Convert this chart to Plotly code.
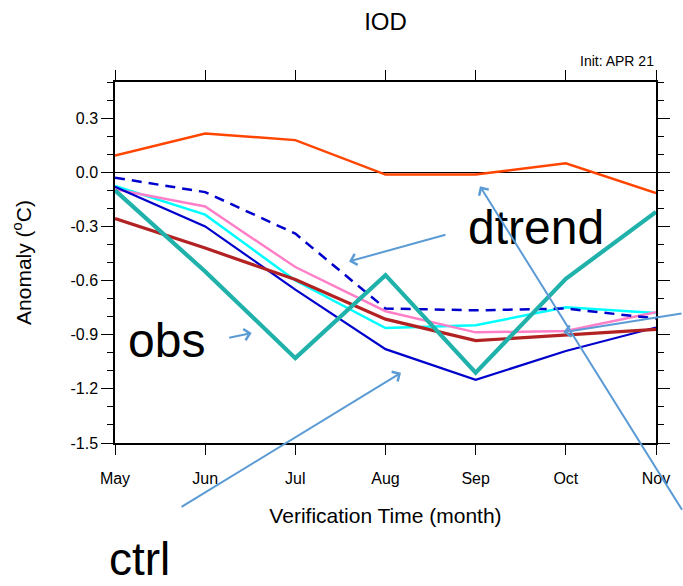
import plotly.graph_objects as go

# Verification months (forecast initialised in April 2021)
months = ["May", "Jun", "Jul", "Aug", "Sep", "Oct", "Nov"]

# IOD anomaly (degC) for each series
obs = [-0.10, -0.55, -1.03, -0.57, -1.11, -0.59, -0.22]
ctrl = [-0.08, -0.30, -0.65, -0.98, -1.15, -0.99, -0.86]
dtrend = [-0.03, -0.11, -0.34, -0.755, -0.765, -0.755, -0.81]
exp_orange = [0.093, 0.215, 0.178, -0.013, -0.013, 0.05, -0.115]
exp_cyan = [-0.076, -0.235, -0.60, -0.863, -0.848, -0.748, -0.78]
exp_pink = [-0.094, -0.19, -0.525, -0.77, -0.887, -0.88, -0.776]
exp_brown = [-0.256, -0.42, -0.594, -0.814, -0.933, -0.90, -0.87]

ytick_vals = [0.3, 0.0, -0.3, -0.6, -0.9, -1.2, -1.5]
ytick_text = ["0.3", "0.0", "-0.3", "-0.6", "-0.9", "-1.2", "-1.5"]

x = list(range(len(months)))
FONT = "Liberation Sans, Arial, Helvetica, sans-serif"
ARROW = "#5b9bd5"

fig = go.Figure()

series = [
    (exp_orange, "#ff4500", 2.5, "solid"),
    (exp_cyan, "#00ffff", 2.5, "solid"),
    (exp_pink, "#ff80c8", 2.5, "solid"),
    (dtrend, "#0000cc", 2.5, "10px,7px"),
    (ctrl, "#0000cc", 2.2, "solid"),
    (exp_brown, "#b22222", 3.2, "solid"),
    (obs, "#20b2aa", 4.2, "solid"),
]
for vals, color, width, dash in series:
    fig.add_trace(go.Scatter(
        x=x, y=vals, mode="lines",
        line=dict(color=color, width=width, dash=dash),
        showlegend=False, hoverinfo="skip",
    ))

fig.update_layout(
    width=683, height=586,
    margin=dict(l=115, r=27, t=82, b=143),
    paper_bgcolor="white", plot_bgcolor="white",
    font=dict(family=FONT, color="black"),
    title=dict(text="IOD", x=0.5, xref="paper", xanchor="center",
               y=1 - 22 / 586, yanchor="middle",
               font=dict(size=24, family=FONT)),
)

fig.update_xaxes(
    range=[0, 6], tickmode="array", tickvals=x, ticktext=months,
    ticks="outside", ticklen=10, tickwidth=1.3, tickcolor="black",
    ticklabelstandoff=10,
    showline=True, linecolor="black", linewidth=1.5, mirror="allticks",
    showgrid=False, zeroline=False,
    tickfont=dict(size=16, family=FONT),
    title=dict(text="Verification Time (month)", font=dict(size=21, family=FONT),
               standoff=22),
)

fig.update_yaxes(
    range=[-1.5, 0.5], tickmode="array", tickvals=ytick_vals, ticktext=ytick_text,
    ticks="outside", ticklen=12, tickwidth=1.3, tickcolor="black",
    minor=dict(tickmode="array",
               tickvals=[round(-1.5 + 0.1 * i, 1) for i in range(21)],
               ticks="outside", ticklen=6, tickwidth=1.2, tickcolor="black"),
    showline=True, linecolor="black", linewidth=1.5, mirror="allticks",
    showgrid=False, zeroline=True, zerolinecolor="black", zerolinewidth=1.2,
    tickfont=dict(size=16, family=FONT),
    title=dict(text="Anomaly (<sup>o</sup>C)", font=dict(size=21, family=FONT),
               standoff=33),
)

# Init label above the top-right corner
fig.add_annotation(text="Init: APR 21", xref="paper", yref="paper",
                   x=1.0, y=1.0, xanchor="right", yanchor="bottom", yshift=11,
                   showarrow=False, font=dict(size=14, family=FONT))

# Large series labels (paper coordinates so they may sit outside the axes)
for txt, lx, ly, fs in [("dtrend", 0.648, 0.597, 48), ("obs", 0.020, 0.285, 48),
                        ("ctrl", -0.014, -0.322, 46)]:
    fig.add_annotation(text=txt, x=lx, y=ly, xref="paper", yref="paper",
                       xanchor="left", yanchor="middle", showarrow=False,
                       font=dict(size=fs, family=FONT, color="black"))

# Pointer arrows: (head x, head y, tail offset px)
arrows = [
    (2.595, -0.494, 98, -27),
    (1.516, -0.891, -24, 5),
    (3.172, -1.111, -221, 135),
    (4.048, -0.078, 203, 325),
    (4.972, -0.887, 120, -19),
]
for hx, hy, ax, ay in arrows:
    fig.add_annotation(x=hx, y=hy, xref="x", yref="y", ax=ax, ay=ay,
                       axref="pixel", ayref="pixel", text="", showarrow=True,
                       arrowhead=4, arrowsize=1.1, arrowwidth=2,
                       arrowcolor=ARROW, standoff=0)

fig.write_html("out.html")
